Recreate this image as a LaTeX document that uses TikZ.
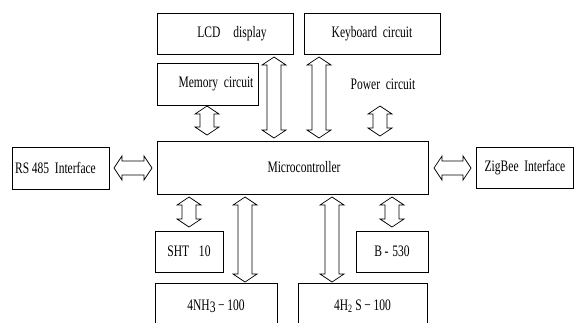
\documentclass[tikz,border=0pt]{standalone}
\usepackage{fontspec}
\setmainfont{Liberation Serif}[FakeStretch=0.72,WordSpace=2]
\usetikzlibrary{calc}
\tikzset{box/.style={draw, line width=0.8pt, inner sep=0pt},
  blk/.style={draw, line width=0.7pt, line join=miter}}
% hollow two-headed block arrow between two named points
\newcommand{\dblarrow}[2]{%
  \draw[blk] (#1) -- ($(#1)!8pt!(#2)!12pt!90:(#2)$) -- ($(#1)!8pt!(#2)!7pt!90:(#2)$)
    -- ($(#2)!8pt!(#1)!7pt!-90:(#1)$) -- ($(#2)!8pt!(#1)!12pt!-90:(#1)$) -- (#2)
    -- ($(#2)!8pt!(#1)!12pt!90:(#1)$) -- ($(#2)!8pt!(#1)!7pt!90:(#1)$)
    -- ($(#1)!8pt!(#2)!7pt!-90:(#2)$) -- ($(#1)!8pt!(#2)!12pt!-90:(#2)$) -- cycle;}
\begin{document}
\begin{tikzpicture}[x=1pt,y=-1pt,font=\fontsize{16}{18}\selectfont]
    \path[use as bounding box, clip] (0,0) rectangle (574,322);
    % top row
    \node[box, minimum width=136, minimum height=41] (lcd) at (225,33.5) {\hspace*{14pt}LCD\hspace{13pt}display};
    \node[box, minimum width=136, minimum height=41] (kbd) at (372,33.5) {Keyboard circuit};
    \node[box, minimum width=101, minimum height=42] (mem) at (207.5,84) {\hspace*{17pt}Memory circuit};
    \node (pwr) at (383,84) {Power circuit};
    % middle row
    \node[box, minimum width=271, minimum height=53] (mcu) at (292.5,167.5) {\hspace*{23pt}Microcontroller};
    \node[box, minimum width=97, minimum height=42] (rs) at (60.5,168) {RS\,485 Interface\hspace*{10pt}};
    \node[box, minimum width=97, minimum height=41] (zig) at (525,167.5) {ZigBee Interface};
    % bottom rows
    \node[box, minimum width=68, minimum height=41] (sht) at (189,251.5) {SHT\hspace{4pt} 10};
    \node[box, minimum width=72, minimum height=41] (bx) at (392,251.5) {B\,-\hspace{4pt}530};
    \node[box, minimum width=122, minimum height=46] (nh3) at (216,306) {4NH\raisebox{-2pt}{3}\,−\,100};
    \node[box, minimum width=129, minimum height=46] (h2s) at (362.5,306) {4H\textsubscript{2}\,S\,−\,100};
    % arrow ends
    \coordinate (m1) at (207,106); \coordinate (m2) at (207,135);
    \coordinate (l1) at (274,57);  \coordinate (l2) at (274,138);
    \coordinate (k1) at (319,57);  \coordinate (k2) at (319,138);
    \coordinate (p1) at (380,106); \coordinate (p2) at (380,136);
    \coordinate (s1) at (189,197); \coordinate (s2) at (189,227);
    \coordinate (n1) at (245,197); \coordinate (n2) at (245,282);
    \coordinate (h1) at (332,197); \coordinate (h2) at (332,282);
    \coordinate (b1) at (392,197); \coordinate (b2) at (392,227);
    \coordinate (r1) at (114,168); \coordinate (r2) at (152,168);
    \coordinate (z1) at (434,168); \coordinate (z2) at (471,168);
    \foreach \a/\b in {m1/m2,l1/l2,k1/k2,p1/p2,s1/s2,n1/n2,h1/h2,b1/b2,r1/r2,z1/z2}
      \dblarrow{\a}{\b};
  \end{tikzpicture}
\end{document}
